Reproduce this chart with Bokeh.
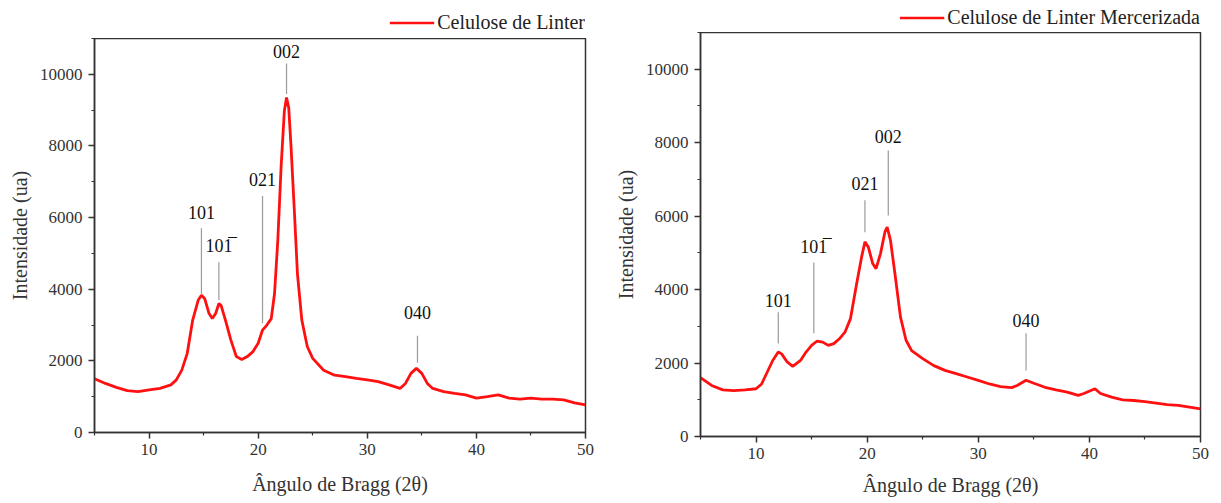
from bokeh.plotting import figure
from bokeh.layouts import row, column
from bokeh.models import FixedTicker, Legend, LegendItem, Range1d
from bokeh.core.properties import value
from bokeh.embed import file_html
from bokeh.resources import INLINE

# ---- data: Celulose de Linter ----
x_linter = [5, 6, 7, 8, 9, 10, 11, 12, 12.5, 13, 13.5, 14, 14.5, 14.8, 15.1, 15.5, 15.8,
            16.1, 16.4, 16.6, 17, 17.5, 18, 18.5, 19, 19.5, 20, 20.4, 20.8, 21.2, 21.5,
            21.8, 22.1, 22.4, 22.6, 22.8, 23.0, 23.3, 23.6, 24, 24.5, 25, 26, 27, 28, 29,
            30, 31, 32, 33, 33.5, 34, 34.5, 35, 35.5, 36, 37, 38, 39, 40, 41, 42, 43, 44,
            45, 46, 47, 48, 49, 50]
y_linter = [1500, 1370, 1260, 1170, 1140, 1190, 1230, 1330, 1470, 1740, 2210, 3140, 3690,
            3830, 3740, 3320, 3180, 3320, 3600, 3550, 3140, 2580, 2120, 2040, 2120, 2250,
            2490, 2860, 3000, 3180, 3880, 5360, 7400, 8980, 9350, 9070, 8050, 6290, 4430,
            3140, 2400, 2070, 1740, 1600, 1560, 1510, 1470, 1420, 1330, 1230, 1370, 1650,
            1790, 1650, 1370, 1230, 1140, 1090, 1050, 960, 1000, 1050, 960, 930, 960, 930,
            930, 910, 830, 770]

# ---- data: Celulose de Linter Mercerizada ----
x_merc = [5, 6, 7, 8, 9, 10, 10.5, 11, 11.5, 12, 12.3, 12.8, 13.3, 14, 14.5, 15, 15.5, 16,
          16.5, 17, 17.5, 18, 18.5, 19, 19.5, 19.8, 20.1, 20.5, 20.8, 21.2, 21.6, 21.8,
          22.1, 22.5, 23, 23.5, 24, 25, 26, 27, 28, 29, 30, 31, 32, 33, 33.5, 34.3, 35,
          36, 37, 38, 39, 39.5, 40.5, 41, 42, 43, 44, 45, 46, 47, 48, 49, 50]
y_merc = [1600, 1390, 1270, 1250, 1270, 1300, 1430, 1750, 2070, 2300, 2250, 2030, 1910,
          2070, 2300, 2480, 2600, 2570, 2480, 2530, 2660, 2840, 3210, 4070, 4890, 5300,
          5160, 4710, 4570, 4980, 5570, 5700, 5340, 4430, 3250, 2620, 2340, 2120, 1930,
          1800, 1710, 1620, 1530, 1430, 1360, 1330, 1390, 1530, 1450, 1340, 1270, 1210,
          1120, 1170, 1300, 1170, 1070, 1000, 980, 950, 910, 870, 850, 800, 750]

# ---- peak annotations (label, x, label y, line top, line bottom) ----
labels_linter = ["101", "101\u0305", "021", "002", "040"]
lx_linter = [14.8, 16.4, 20.4, 22.6, 34.6]
ly_linter = [6150, 5200, 7050, 10650, 3350]
l0_linter = [5700, 4750, 6600, 10300, 2700]
l1_linter = [3850, 3700, 3050, 9450, 1950]

labels_merc = ["101", "101\u0305", "021", "002", "040"]
lx_merc = [12.0, 15.2, 19.8, 21.9, 34.3]
ly_merc = [3700, 5150, 6900, 8180, 3170]
l0_merc = [3380, 4740, 6430, 7790, 2810]
l1_merc = [2530, 2810, 5560, 6020, 1800]

x_ticks = [10, 20, 30, 40, 50]
x_minor = [5, 15, 25, 35, 45]
y_ticks = [0, 2000, 4000, 6000, 8000, 10000]
y_minor = [1000, 3000, 5000, 7000, 9000, 11000]

SERIF = "Liberation Serif"
RED = "#ff1010"
AX = "#333333"


def legend_bar(name, xs, ys, fw, fh, bl, br, bt, pad_right):
    # legend strip above the panel; the series itself lies outside this strip's range
    q = figure(output_backend="svg", toolbar_location=None,
               frame_width=fw, frame_height=fh,
               min_border_left=bl, min_border_right=br, min_border_top=bt,
               min_border_bottom=0, x_range=Range1d(5, 50),
               y_range=Range1d(-3000, -2000))
    q.axis.visible = False
    q.grid.visible = False
    q.outline_line_color = None
    q.background_fill_color = "white"
    q.border_fill_color = "white"
    r = q.line(xs, ys, line_color=RED, line_width=2.6)
    leg = Legend(items=[LegendItem(label=name, renderers=[r])],
                 location="center_right", orientation="horizontal",
                 border_line_color=None, background_fill_alpha=0,
                 margin=0, padding=pad_right, glyph_width=45, label_standoff=3,
                 label_text_font=SERIF, label_text_font_size="20px",
                 label_text_color="#222222")
    q.add_layout(leg, "center")
    return q


def make(xs, ys, labels, lx, ly, l0, l1, fw, fh, bl, br, bb, xstand):
    p = figure(output_backend="svg", toolbar_location=None,
               frame_width=fw, frame_height=fh,
               min_border_left=bl, min_border_right=br,
               min_border_top=0, min_border_bottom=bb,
               x_range=Range1d(5, 50), y_range=Range1d(0, 11000))
    p.background_fill_color = "white"
    p.border_fill_color = "white"
    p.grid.visible = False
    p.outline_line_color = AX
    p.outline_line_width = 1.5

    p.line(xs, ys, line_color=RED, line_width=2.8)
    p.segment(x0=lx, y0=l0, x1=lx, y1=l1, line_color="#9a9a9a", line_width=1.2)
    p.text(x=lx, y=ly, text=labels, text_font=value(SERIF), text_font_size="18px",
           text_align="center", text_baseline="middle", text_color="#111111")

    p.xaxis.ticker = FixedTicker(ticks=x_ticks, minor_ticks=x_minor)
    p.yaxis.ticker = FixedTicker(ticks=y_ticks, minor_ticks=y_minor)
    for ax in (p.xaxis[0], p.yaxis[0]):
        ax.axis_line_color = AX
        ax.axis_line_width = 1.5
        ax.major_tick_line_color = AX
        ax.major_tick_line_width = 1.5
        ax.minor_tick_line_color = AX
        ax.minor_tick_line_width = 1.2
        ax.major_tick_out = 6
        ax.major_tick_in = 0
        ax.minor_tick_out = 3
        ax.minor_tick_in = 0
        ax.major_label_text_font = SERIF
        ax.major_label_text_font_size = "17px"
        ax.major_label_text_color = AX
        ax.axis_label_text_font = SERIF
        ax.axis_label_text_font_size = "20px"
        ax.axis_label_text_font_style = "normal"
        ax.axis_label_text_color = AX
    p.xaxis.axis_label = "Ângulo de Bragg (2θ)"
    p.yaxis.axis_label = "Intensidade (ua)"
    p.xaxis.axis_label_standoff = xstand
    p.yaxis.axis_label_standoff = 6
    p.yaxis.major_label_standoff = 6
    p.xaxis.major_label_standoff = 5
    return p


l1 = legend_bar("Celulose de Linter", x_linter, y_linter, 491, 32, 94, 26, 6, 4)
p1 = make(x_linter, y_linter, labels_linter, lx_linter, ly_linter, l0_linter, l1_linter,
          491, 394, 94, 26, 69, 15)
l2 = legend_bar("Celulose de Linter Mercerizada", x_merc, y_merc, 500, 30, 89, 13, 2, 1)
p2 = make(x_merc, y_merc, labels_merc, lx_merc, ly_merc, l0_merc, l1_merc,
          500, 404, 89, 13, 66, 12)

layout = row(column(l1, p1), column(l2, p2))
open("out.html", "w").write(file_html(layout, INLINE))
